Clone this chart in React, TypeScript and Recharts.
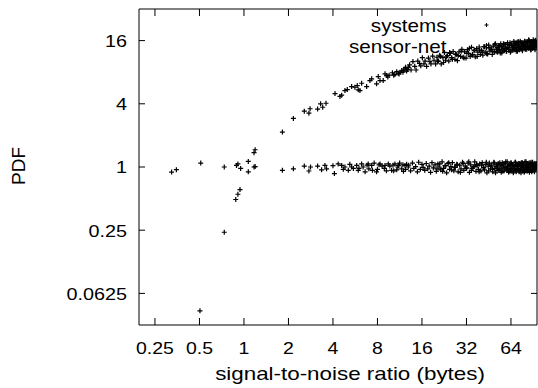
import React from 'react';
import { ScatterChart, Scatter, XAxis, YAxis, ReferenceLine, Legend } from 'recharts';

// ---- data ----
const X_TICKS = [0.25, 0.5, 1, 2, 4, 8, 16, 32, 64];
const Y_TICKS = [0.0625, 0.25, 1, 4, 16];
const X_DOMAIN = [0.195, 96];
const Y_DOMAIN = [0.03125, 32];
const SERIES_NAMES = ['systems', 'sensor-net'];
const X_TITLE = 'signal-to-noise ratio (bytes)';
const Y_TITLE = 'PDF';

const SYSTEMS_X = [
  0.504, 0.736, 0.88, 0.91, 0.94, 1.17, 1.19, 1.82, 2.16, 2.56,
  2.75, 2.8, 3.15, 3.3, 3.41, 3.59, 4.13, 4.46, 4.58, 4.82,
  5.0, 5.35, 5.63, 5.84, 5.93, 6.09, 6.25, 6.76, 7.11, 7.31,
  7.89, 8.1, 8.32, 8.75, 9.0, 9.24, 9.6, 10.1, 10.5, 11.07,
  11.4, 11.67, 12.0, 12.28, 12.6, 12.93,
  9.4, 10.3, 10.8, 11.2, 11.9, 12.4, 12.8,
  13.2, 13.5, 13.9, 14.3, 14.6, 15.0, 15.4, 15.7, 16.1, 16.5,
  16.8, 17.2, 17.7, 18.1, 18.4, 18.9, 19.3, 19.8, 20.2, 20.7,
  21.1, 21.6, 22.2, 22.7, 23.1, 23.8, 24.3, 24.9, 25.4, 26.0,
  26.7, 27.3, 27.8, 28.5, 29.2, 29.8, 30.4, 31.1, 31.8, 32.5,
  33.1, 33.9, 34.6, 35.2, 36.0, 36.7, 37.5, 38.2, 39.0, 39.7,
  40.5, 41.3, 42.0, 42.8, 43.7, 44.5, 45.2, 46.1, 46.9, 47.8,
  48.6, 49.4, 50.3, 51.1, 52.0, 52.9, 53.7, 54.6, 55.5, 56.3,
  57.2, 58.1, 59.0, 59.8, 60.7, 61.6, 62.5, 63.4, 64.2, 65.1,
  66.0, 66.9, 67.8, 68.6, 69.5, 70.4, 71.3, 72.1, 73.0, 73.9,
  74.8, 75.6, 76.5, 77.4, 78.3, 79.1, 80.0, 80.9, 81.8, 82.6,
  83.5, 84.4, 85.3, 86.1, 87.0, 87.9, 88.8, 89.6, 90.5, 91.4,
  92.3, 93.1, 94.0, 94.9, 95.7,
  20.4, 21.3, 22.4, 23.4, 24.6, 25.7, 26.9, 28.1, 29.5, 30.8,
  32.2, 33.5, 35.0, 36.3, 37.8, 39.3, 40.8, 42.3, 43.9, 45.5,
  47.1, 48.2, 49.8, 50.8, 51.6, 52.5, 53.4, 54.2, 55.1, 56.0,
  56.9, 57.7, 58.6, 59.5, 60.3, 61.2, 62.1, 63.0, 63.8, 64.7,
  65.6, 66.5, 67.3, 68.2, 69.1, 70.0, 70.8, 71.7, 72.6, 73.5,
  74.3, 75.2, 76.1, 77.0, 77.8, 78.7, 79.6, 80.5, 81.3, 82.2,
  83.1, 84.0, 84.8, 85.7, 86.6, 87.5, 88.3, 89.2, 90.1, 91.0,
  91.8, 92.7, 93.6, 94.5, 95.3,
];
const SYSTEMS_Y = [
  0.0426, 0.239, 0.49, 0.55, 0.61, 1.37, 1.46, 2.15, 2.9, 3.4,
  3.26, 3.59, 3.56, 4.0, 3.71, 4.05, 5.01, 4.7, 4.83, 5.35,
  5.47, 5.84, 5.75, 5.97, 5.43, 5.35, 6.28, 5.84, 6.66, 6.92,
  6.2, 7.27, 6.66, 6.66, 7.72, 7.43, 7.5, 7.9, 7.6, 7.82,
  8.0, 8.29, 8.4, 8.6, 8.2, 8.91,
  7.2, 7.5, 8.1, 7.7, 8.0, 8.9, 8.5,
  9.4, 8.4, 10.1, 9.1, 8.4, 10.2, 9.7, 9.2, 11.0, 9.6,
  10.2, 9.1, 10.9, 10.1, 9.6, 11.4, 10.4, 9.6, 11.1, 10.2,
  11.6, 9.6, 11.0, 12.3, 10.4, 11.5, 10.2, 12.1, 11.0, 12.6,
  10.6, 11.8, 10.3, 12.5, 11.3, 13.2, 11.1, 12.5, 10.9, 13.1,
  12.1, 11.3, 13.8, 11.8, 12.8, 11.2, 13.4, 12.4, 13.9, 11.8,
  12.9, 11.6, 14.0, 12.4, 13.6, 11.9, 14.5, 12.7, 13.6, 11.8,
  14.2, 12.5, 14.9, 13.3, 12.4, 14.3, 13.0, 14.9, 12.2, 13.9,
  12.9, 14.8, 13.5, 12.6, 15.3, 13.2, 14.4, 12.4, 14.9, 13.9,
  13.0, 15.7, 13.5, 14.8, 12.7, 15.4, 13.8, 14.5, 13.1, 15.8,
  13.6, 15.1, 12.8, 14.8, 14.1, 15.8, 13.4, 14.6, 13.2, 15.6,
  14.0, 16.3, 13.7, 15.2, 13.1, 15.7, 14.5, 13.5, 16.3, 14.0,
  15.4, 13.1, 16.1, 14.3, 15.2,
  10.2, 11.3, 9.9, 11.2, 12.3, 10.6, 11.9, 11.5, 12.7, 10.9,
  12.1, 13.5, 11.6, 13.0, 11.3, 13.0, 12.4, 14.0, 12.0, 13.7,
  13.1, 12.6, 14.8, 12.5, 13.7, 13.2, 14.3, 12.2, 14.0, 13.1,
  14.9, 12.9, 13.9, 12.6, 14.7, 13.7, 13.2, 15.3, 12.7, 14.5,
  13.6, 14.3, 13.1, 15.2, 13.8, 14.8, 12.7, 15.7, 13.6, 14.2,
  13.4, 15.3, 13.2, 14.8, 14.3, 13.7, 15.7, 13.2, 15.2, 14.1,
  14.6, 13.5, 16.0, 14.0, 15.2, 13.1, 15.5, 14.4, 15.0, 13.8,
  15.9, 13.6, 14.7, 15.5, 14.2,
];

const SENSOR_X = [
  0.324, 0.349, 0.51, 0.736, 0.89, 0.91, 0.95, 1.07, 1.07, 1.17,
  1.19, 1.82, 2.16, 2.56, 2.75, 2.82, 3.15, 3.35, 3.53, 3.62,
  4.09, 4.34, 4.58, 4.82, 5.08, 5.35, 5.79, 5.93, 6.25, 6.6,
  6.93, 7.31, 7.89, 8.32, 9.0, 9.47, 9.97, 10.5, 11.07, 11.67,
  12.28, 12.93, 5.5, 6.4, 7.0, 7.6, 8.0, 8.6, 9.2, 10.2,
  10.8, 11.3, 12.0, 12.6,
  4.0, 4.7, 5.2, 6.0, 6.8, 7.4, 8.2, 8.9, 9.7, 10.3,
  11.0, 11.9, 12.4,
  13.0, 13.4, 13.8, 14.1, 14.5, 14.9, 15.2, 15.6, 16.0, 16.3,
  16.7, 17.1, 17.5, 17.9, 18.3, 18.7, 19.1, 19.6, 20.0, 20.5,
  20.9, 21.4, 21.9, 22.4, 22.9, 23.5, 24.0, 24.6, 25.1, 25.7,
  26.3, 26.9, 27.5, 28.1, 28.8, 29.4, 30.1, 30.7, 31.4, 32.1,
  32.8, 33.5, 34.2, 34.9, 35.6, 36.4, 37.1, 37.8, 38.6, 39.3,
  40.1, 40.9, 41.7, 42.4, 43.2, 44.0, 44.9, 45.7, 46.5, 47.3,
  48.2, 49.0, 49.8, 50.7, 51.5, 52.4, 53.3, 54.1, 55.0, 55.9,
  56.7, 57.6, 58.5, 59.4, 60.3, 61.1, 62.0, 62.9, 63.8, 64.7,
  65.5, 66.4, 67.3, 68.2, 69.1, 70.0, 70.8, 71.7, 72.6, 73.5,
  74.4, 75.2, 76.1, 77.0, 77.9, 78.7, 79.6, 80.5, 81.4, 82.2,
  83.1, 84.0, 84.9, 85.7, 86.6, 87.5, 88.4, 89.2, 90.1, 91.0,
  91.8, 92.7, 93.6, 94.5, 95.3,
  20.2, 21.1, 22.1, 23.2, 24.3, 25.4, 26.6, 27.8, 29.1, 30.4,
  31.8, 33.2, 34.6, 36.1, 37.5, 39.0, 40.5, 42.0, 43.6, 45.2,
  46.8, 48.0, 49.4, 50.3, 51.2, 52.0, 52.9, 53.8, 54.7, 55.5,
  56.4, 57.3, 58.2, 59.0, 59.9, 60.8, 61.7, 62.5, 63.4, 64.3,
  65.2, 66.0, 66.9, 67.8, 68.7, 69.5, 70.4, 71.3, 72.2, 73.0,
  73.9, 74.8, 75.7, 76.5, 77.4, 78.3, 79.2, 80.0, 80.9, 81.8,
  82.7, 83.5, 84.4, 85.3, 86.2, 87.0, 87.9, 88.8, 89.7, 90.5,
  91.4, 92.3, 93.2, 94.0, 94.9,
];
const SENSOR_Y = [
  0.895, 0.943, 1.09, 1.0, 1.035, 1.07, 0.97, 1.13, 0.9, 1.0,
  1.01, 0.93, 0.96, 1.02, 0.916, 1.0, 1.02, 0.94, 1.035, 0.96,
  0.865, 1.07, 1.035, 1.0, 0.93, 1.0, 1.035, 0.93, 1.07, 0.9,
  1.07, 1.035, 0.9, 1.07, 1.035, 1.07, 0.93, 1.07, 1.035, 0.96,
  1.035, 1.0, 0.97, 1.0, 0.96, 1.09, 0.95, 1.02, 0.92, 1.04,
  0.94, 1.09, 0.91, 1.06,
  1.03, 0.95, 1.06, 0.97, 1.04, 0.93, 1.05, 0.97, 1.02, 0.92,
  1.0, 1.05, 0.95,
  1.04, 0.92, 1.09, 0.97, 1.01, 0.9, 1.11, 0.95, 1.06, 0.99,
  0.93, 1.08, 0.96, 1.02, 0.89, 1.1, 0.98, 1.05, 0.91, 1.07,
  1.0, 0.94, 1.12, 0.97, 1.03, 0.88, 1.08, 0.95, 1.01, 1.1,
  0.92, 0.99, 1.06, 0.9, 1.04, 0.96, 1.11, 0.93, 1.02, 0.98,
  1.09, 0.89, 1.05, 0.97, 1.0, 1.12, 0.91, 1.03, 0.95, 1.07,
  0.92, 1.1, 0.99, 0.94, 1.06, 0.88, 1.02, 1.09, 0.96, 1.04,
  0.9, 1.11, 0.97, 1.01, 0.93, 1.08, 0.95, 1.05, 0.89, 1.1,
  1.0, 0.92, 1.07, 0.98, 1.12, 0.94, 1.03, 0.91, 1.09, 0.96,
  1.05, 0.88, 1.01, 1.11, 0.93, 1.06, 0.97, 1.02, 0.9, 1.08,
  0.95, 1.1, 0.99, 0.92, 1.04, 0.89, 1.12, 0.96, 1.03, 0.91,
  1.07, 0.98, 1.09, 0.94, 1.0, 1.11, 0.9, 1.05, 0.97, 1.02,
  0.93, 1.08, 0.95, 1.06, 0.99,
  0.96, 1.07, 0.91, 1.03, 1.1, 0.94, 0.99, 1.05, 0.89, 1.08,
  0.97, 1.12, 0.93, 1.01, 1.06, 0.9, 1.04, 0.98, 1.11, 0.92,
  1.02, 0.95, 1.09, 0.88, 1.05, 1.0, 0.93, 1.1, 0.96, 1.03,
  0.91, 1.07, 0.98, 1.12, 0.94, 1.01, 0.89, 1.06, 0.97, 1.09,
  0.92, 1.04, 1.0, 0.95, 1.11, 0.9, 1.03, 0.97, 1.08, 0.93,
  1.06, 0.88, 1.02, 1.1, 0.96, 1.05, 0.91, 0.99, 1.12, 0.94,
  1.07, 0.97, 1.01, 0.89, 1.09, 0.95, 1.04, 0.92, 1.11, 0.98,
  1.03, 0.9, 1.06, 0.96, 1.08,
];

// ---- layout ----
const W = 538;
const H = 388;
const PLOT_LEFT = 139;
const PLOT_TOP = 9;
const PLOT_RIGHT = 537;
const PLOT_BOTTOM = 325;
const YAXIS_W = 60;
const XAXIS_H = 40;
const FONT = '"Liberation Sans", Arial, Helvetica, sans-serif';

const zip = (xs: number[], ys: number[]) => {
  const n = Math.min(xs.length, ys.length);
  const out: { x: number; y: number }[] = [];
  for (let i = 0; i < n; i++) out.push({ x: xs[i], y: ys[i] });
  return out;
};
const systemsData = zip(SYSTEMS_X, SYSTEMS_Y);
const sensorData = zip(SENSOR_X, SENSOR_Y);

const Cross = (props: any) => {
  const { cx, cy } = props;
  if (cx == null || cy == null || isNaN(cx) || isNaN(cy)) return null;
  const a = 2.5;
  return (
    <path
      d={`M${cx - a},${cy}H${cx + a}M${cx},${cy - a}V${cy + a}`}
      stroke="#000"
      strokeWidth={1.2}
      fill="none"
    />
  );
};

const XTick = (props: any) => {
  const { x, payload } = props;
  return (
    <g>
      <line x1={x} x2={x} y1={PLOT_BOTTOM - 7} y2={PLOT_BOTTOM} stroke="#000" strokeWidth={1} />
      <line x1={x} x2={x} y1={PLOT_TOP} y2={PLOT_TOP + 7} stroke="#000" strokeWidth={1} />
      <text
        transform={`translate(${x},353.5) scale(1.18,1)`}
        textAnchor="middle"
        fontSize={16.5}
        fontFamily={FONT}
        fill="#000"
      >
        {String(payload.value)}
      </text>
    </g>
  );
};

const YTick = (props: any) => {
  const { y, payload } = props;
  return (
    <g>
      <line x1={PLOT_LEFT} x2={PLOT_LEFT + 6} y1={y} y2={y} stroke="#000" strokeWidth={1} />
      <line x1={PLOT_RIGHT - 6} x2={PLOT_RIGHT} y1={y} y2={y} stroke="#000" strokeWidth={1} />
      <text
        transform={`translate(127,${y + 6.3}) scale(1.2,1)`}
        textAnchor="end"
        fontSize={16.5}
        fontFamily={FONT}
        fill="#000"
      >
        {String(payload.value)}
      </text>
    </g>
  );
};

const XTitle = () => (
  <text
    transform="translate(350,379.5) scale(1.21,1)"
    textAnchor="middle"
    fontSize={18.5}
    fontFamily={FONT}
    fill="#000"
  >
    {X_TITLE}
  </text>
);

const YTitle = () => (
  <text
    transform="translate(25,166) rotate(-90)"
    textAnchor="middle"
    fontSize={19}
    fontFamily={FONT}
    fill="#000"
  >
    {Y_TITLE}
  </text>
);

const LegendContent = () => (
  <svg width={W} height={60} style={{ display: 'block' }}>
    {SERIES_NAMES.map((name, i) => {
      const baseline = 32 + i * 21;
      const my = 25 + i * 20;
      return (
        <g key={name}>
          <text
            transform={`translate(446.5,${baseline}) scale(1.18,1)`}
            textAnchor="end"
            fontSize={17.5}
            fontFamily={FONT}
            fill="#000"
          >
            {name}
          </text>
          <path d={`M${484.5},${my}H${488.5}M${486.5},${my - 2}V${my + 2}`} stroke="#000" strokeWidth={1} />
        </g>
      );
    })}
  </svg>
);

export default function App() {
  return (
    <div style={{ position: 'absolute', left: 0, top: 0, width: W, height: H, background: '#fff' }}>
      <ScatterChart
        width={W}
        height={H}
        margin={{
          top: PLOT_TOP,
          right: W - PLOT_RIGHT,
          left: PLOT_LEFT - YAXIS_W,
          bottom: H - PLOT_BOTTOM - XAXIS_H,
        }}
      >
        <XAxis
          type="number"
          dataKey="x"
          scale="log"
          domain={X_DOMAIN}
          allowDataOverflow
          ticks={X_TICKS}
          interval={0}
          height={XAXIS_H}
          tickLine={false}
          axisLine={{ stroke: '#000', strokeWidth: 1 }}
          tick={<XTick />}
          label={<XTitle />}
        />
        <YAxis
          type="number"
          dataKey="y"
          scale="log"
          domain={Y_DOMAIN}
          allowDataOverflow
          ticks={Y_TICKS}
          interval={0}
          width={YAXIS_W}
          tickLine={false}
          axisLine={{ stroke: '#000', strokeWidth: 1 }}
          tick={<YTick />}
          label={<YTitle />}
        />
        <ReferenceLine y={Y_DOMAIN[1]} stroke="#000" strokeWidth={1} ifOverflow="visible" />
        <ReferenceLine x={X_DOMAIN[1]} stroke="#000" strokeWidth={1} ifOverflow="visible" />
        <Legend
          layout="vertical"
          verticalAlign="middle"
          align="center"
          wrapperStyle={{ position: 'absolute', left: 0, top: 0, width: W, height: 60, pointerEvents: 'none' }}
          content={<LegendContent />}
        />
        <Scatter name={SERIES_NAMES[0]} data={systemsData} shape={<Cross />} isAnimationActive={false} />
        <Scatter name={SERIES_NAMES[1]} data={sensorData} shape={<Cross />} isAnimationActive={false} />
      </ScatterChart>
    </div>
  );
}
